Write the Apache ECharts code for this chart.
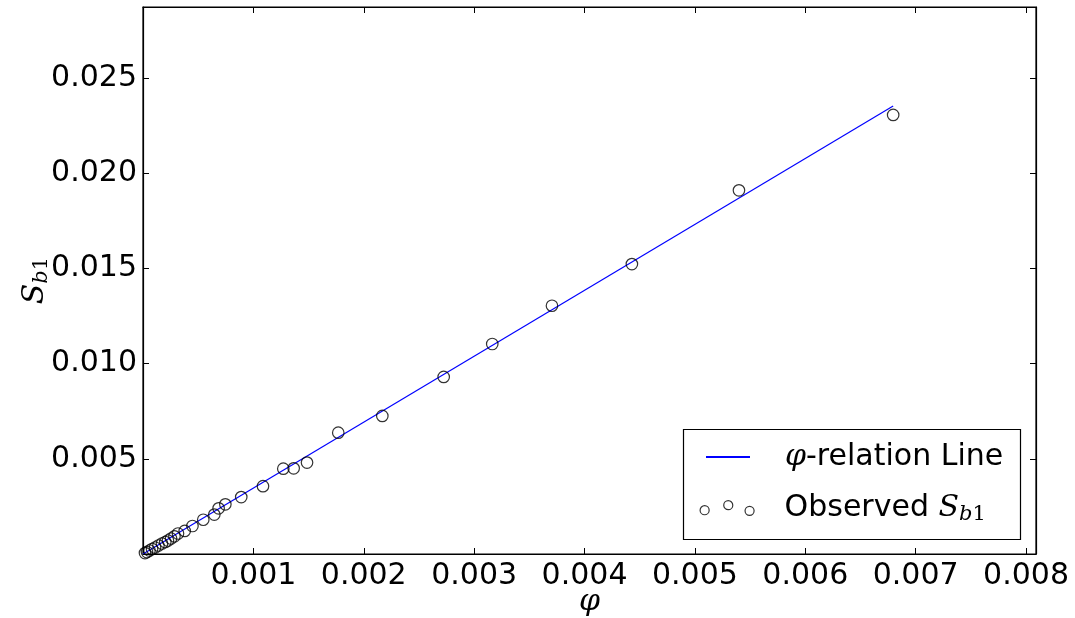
<!DOCTYPE html>
<html><head><meta charset="utf-8">
<script src="https://cdn.jsdelivr.net/npm/echarts@6/dist/echarts.min.js"></script>
<style>html,body{margin:0;padding:0;background:#fff}#c{width:1075px;height:618px}</style>
</head><body><div id="c"></div>
<script>
// Observed S_b1 versus phi
const phiObs = [0.000018, 0.000036, 0.000059, 0.000082, 0.000109, 0.000140, 0.000172, 0.000202,
  0.000226, 0.000254, 0.000285, 0.000317, 0.000378, 0.000448, 0.000546, 0.000646, 0.000685,
  0.000746, 0.000890, 0.001087, 0.001271, 0.001365, 0.001486, 0.001769, 0.002168, 0.002724,
  0.003164, 0.003705, 0.004429, 0.005399, 0.006796];
const sb1Obs = [0.000050, 0.000105, 0.000184, 0.000263, 0.000341, 0.000446, 0.000551, 0.000630,
  0.000709, 0.000814, 0.000929, 0.001077, 0.00121, 0.00147, 0.00180, 0.00207, 0.00240,
  0.00261, 0.00299, 0.00356, 0.00448, 0.00450, 0.00480, 0.00637, 0.00725, 0.00930,
  0.01103, 0.01304, 0.01523, 0.01910, 0.02306];
// phi-relation line endpoints
const linePhi = [0, 0.006796];
const lineSb1 = [0, 0.02353];
// tick labels
const xTickLabels = ['0.001','0.002','0.003','0.004','0.005','0.006','0.007','0.008'];
const yTickLabels = ['0.005','0.010','0.015','0.020','0.025'];
const xRange = [0, 0.00809];
const yRange = [0, 0.02873];

const LINE_NAME = 'φ-relation Line';
const OBS_NAME = 'Observed Sb1';

function tickFmt(labels) {
  const vals = labels.map(parseFloat);
  return function (v) {
    for (let i = 0; i < vals.length; i++) if (Math.abs(v - vals[i]) < 1e-9) return labels[i];
    return '';
  };
}

const chart = echarts.init(document.getElementById('c'), null, {renderer: 'canvas'});
const FS = 30;
const labelStyle = {fontSize: FS, color: '#000', fontFamily: 'DejaVu Sans'};
const rich = {
  m: {fontFamily: 'DejaVu Serif', fontStyle: 'italic', fontSize: FS, lineHeight: 34, color: '#000'},
  sb: {fontFamily: 'DejaVu Serif', fontStyle: 'italic', fontSize: 21, lineHeight: 14, verticalAlign: 'bottom', color: '#000'},
  sn: {fontFamily: 'DejaVu Serif', fontSize: 21, lineHeight: 14, verticalAlign: 'bottom', color: '#000'},
  t: {fontFamily: 'DejaVu Sans', fontSize: FS, lineHeight: 34, color: '#000'}
};
function ticks() { return {show: true, inside: true, length: 6, lineStyle: {color: '#000', width: 1}}; }
function line() { return {show: true, onZero: false, lineStyle: {color: '#000', width: 1.2}}; }

chart.setOption({
  animation: false,
  backgroundColor: '#fff',
  grid: {left: 143, right: 39, top: 7, bottom: 64, outerBoundsMode: 'none', containLabel: false,
    show: true, borderColor: '#000', borderWidth: 1.2, backgroundColor: '#fff'},
  xAxis: [{
    type: 'value', min: xRange[0], max: xRange[1], interval: 0.001, position: 'bottom',
    axisLine: line(), axisTick: ticks(), splitLine: {show: false},
    axisLabel: Object.assign({margin: 7, showMinLabel: false, showMaxLabel: false, formatter: tickFmt(xTickLabels)}, labelStyle),
    name: '{m|φ}', nameLocation: 'middle', nameGap: 31, nameMoveOverlap: false,
    nameTextStyle: {rich: rich}
  }, {
    type: 'value', min: xRange[0], max: xRange[1], interval: 0.001, position: 'top',
    axisLine: line(), axisTick: ticks(), axisLabel: {show: false}, splitLine: {show: false}
  }],
  yAxis: [{
    type: 'value', min: yRange[0], max: yRange[1], interval: 0.005, position: 'left',
    axisLine: line(), axisTick: ticks(), splitLine: {show: false},
    axisLabel: Object.assign({margin: 6, showMinLabel: false, showMaxLabel: false, formatter: tickFmt(yTickLabels)}, labelStyle),
    name: '{m|S}{sb|b}{sn|1}', nameLocation: 'middle', nameGap: 91, nameRotate: 90, nameMoveOverlap: false,
    nameTextStyle: {rich: rich}
  }, {
    type: 'value', min: yRange[0], max: yRange[1], interval: 0.005, position: 'right',
    axisLine: line(), axisTick: ticks(), axisLabel: {show: false}, splitLine: {show: false}
  }],
  graphic: [{
    type: 'rect', z: 3,
    shape: {x: 683.5, y: 429.5, width: 337, height: 110},
    style: {fill: '#fff', stroke: '#000', lineWidth: 1.2}
  }],
  legend: [{
    data: [LINE_NAME], orient: 'vertical', left: 705, top: 442, padding: 0,
    itemWidth: 44, itemHeight: 14, z: 5,
    itemStyle: {color: 'rgba(0,0,0,0)', borderWidth: 0, borderColor: 'rgba(0,0,0,0)'},
    formatter: () => '{m|φ}{t|-relation Line}',
    textStyle: {fontSize: FS, fontFamily: 'DejaVu Sans', color: '#000', padding: [0, 0, 0, 30], rich: rich}
  }, {
    data: [OBS_NAME], orient: 'vertical', left: 699.5, top: 493, padding: 0,
    itemWidth: 54, itemHeight: 15, z: 5,
    icon: 'path://M0,9.5 A4.5,4.5 0 1,0 9,9.5 A4.5,4.5 0 1,0 0,9.5 Z M23.5,4.5 A4.5,4.5 0 1,0 32.5,4.5 A4.5,4.5 0 1,0 23.5,4.5 Z M44.7,10.1 A4.5,4.5 0 1,0 53.7,10.1 A4.5,4.5 0 1,0 44.7,10.1 Z',
    itemStyle: {color: 'rgba(0,0,0,0)', borderColor: '#000', borderWidth: 1.2},
    formatter: () => '{t|Observed }{m|S}{sb|b}{sn|1}',
    textStyle: {fontSize: FS, fontFamily: 'DejaVu Sans', color: '#000', padding: [0, 0, 0, 25.5], rich: rich}
  }],
  series: [{
    name: LINE_NAME, type: 'line', xAxisIndex: 0, yAxisIndex: 0,
    data: linePhi.map((p, i) => [p, lineSb1[i]]),
    showSymbol: false, symbol: 'none',
    lineStyle: {color: '#0000ff', width: 1.2}, itemStyle: {color: '#0000ff'}, z: 2
  }, {
    name: OBS_NAME, type: 'scatter', xAxisIndex: 0, yAxisIndex: 0,
    data: phiObs.map((p, i) => [p, sb1Obs[i]]),
    symbol: 'circle', symbolSize: 11.5,
    itemStyle: {color: 'rgba(0,0,0,0)', borderColor: '#000', borderWidth: 1.2}, z: 3
  }]
});
</script></body></html>
